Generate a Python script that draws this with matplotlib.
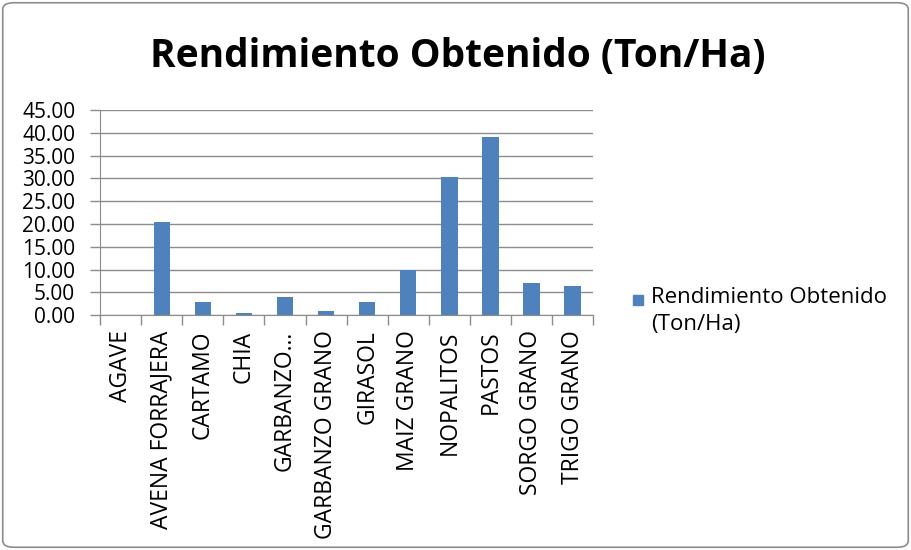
import numpy as np
import matplotlib
matplotlib.use("Agg")
import matplotlib.pyplot as plt
from matplotlib.patches import FancyBboxPatch, Rectangle

# Data
cultivos = ["AGAVE", "AVENA FORRAJERA", "CARTAMO", "CHIA", "GARBANZO…",
            "GARBANZO GRANO", "GIRASOL", "MAIZ GRANO", "NOPALITOS",
            "PASTOS", "SORGO GRANO", "TRIGO GRANO"]
rendimiento = [0.0, 20.5, 2.8, 0.5, 3.9, 1.0, 2.8, 9.8, 30.2, 39.0, 7.1, 6.3]
y_ticks = [0, 5, 10, 15, 20, 25, 30, 35, 40, 45]
serie = "Rendimiento Obtenido\n(Ton/Ha)"

plt.rcParams['font.family'] = ['Open Sans', 'DejaVu Sans']

BAR_COLOR = "#4F81BD"
GRID_COLOR = "#8c8c8c"

fig = plt.figure(figsize=(9.11, 5.5), dpi=100)
ax = fig.add_axes([0.110, 0.427, 0.541, 0.373])

# rounded chart border
border = FancyBboxPatch((0.003, 0.005), 0.994, 0.99,
                        boxstyle="round,pad=0,rounding_size=0.012",
                        transform=fig.transFigure, fill=False,
                        edgecolor=GRID_COLOR, linewidth=1.2)
fig.patches.append(border)

x = np.arange(len(cultivos))
ax.bar(x, rendimiento, width=0.4, color=BAR_COLOR, zorder=3)

ax.set_xlim(-0.5, len(cultivos) - 0.5)
ax.set_ylim(0, 45)
ax.set_yticks(y_ticks)
ax.set_yticklabels([f"{v:.2f}" for v in y_ticks], fontsize=15)
ax.yaxis.grid(True, color=GRID_COLOR, linewidth=1.0, zorder=0)
ax.tick_params(axis="y", length=7, width=1.0, color=GRID_COLOR, pad=11)

ax.set_xticks(x)
ax.set_xticklabels(cultivos, rotation=90, fontsize=16.5, va="top")
ax.set_xticks(np.arange(-0.5, len(cultivos)), minor=True)
ax.tick_params(axis="x", which="major", length=0, pad=11)
ax.tick_params(axis="x", which="minor", length=7, color=GRID_COLOR, width=1.0)

for side in ["top", "right"]:
    ax.spines[side].set_visible(False)
ax.spines["left"].set_color(GRID_COLOR)
ax.spines["bottom"].set_color(GRID_COLOR)

fig.text(0.502, 0.898, "Rendimiento Obtenido (Ton/Ha)", ha="center", va="center",
         fontsize=28, fontweight="bold")

# legend: square marker beside the first line of the series name
fig.patches.append(Rectangle((633 / 911, 1 - 305 / 550), 10 / 911, 10 / 550,
                             transform=fig.transFigure, color=BAR_COLOR))
fig.text(651 / 911, 1 - 287 / 550, serie, ha="left", va="top",
         fontsize=16, linespacing=1.4)

fig.savefig("out.png", dpi=100)
